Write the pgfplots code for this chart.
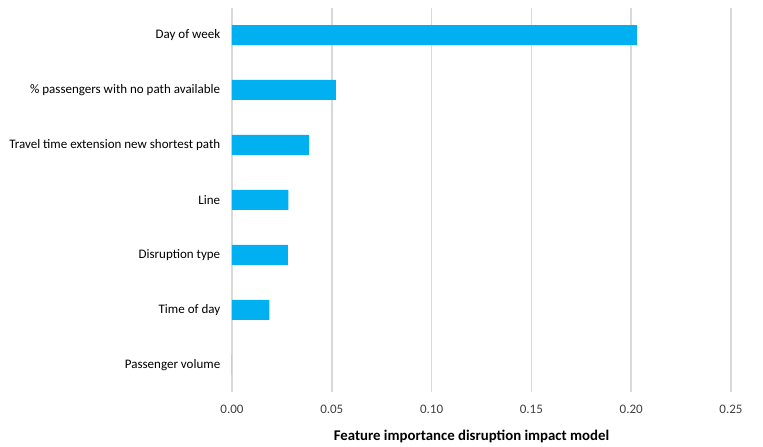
\documentclass[border=0pt]{standalone}
\usepackage{pgfplots}
\pgfplotsset{compat=1.18}
\usepackage{fontspec}
\setmainfont{Carlito}
\definecolor{barblue}{HTML}{00B0F0}
\definecolor{gridgray}{HTML}{D9D9D9}
\definecolor{txt}{HTML}{404040}
\begin{document}
\begin{tikzpicture}
\begin{axis}[
  scale only axis, width=499bp, height=385bp,
  xmin=0, xmax=0.25, ymin=-0.5, ymax=6.5,
  y dir=reverse,
  xbar, bar width=20bp,
  axis line style={draw=none},
  tick style={draw=none},
  xmajorgrids,
  major grid style={gridgray, line width=1.5bp},
  xtick={0,0.05,0.1,0.15,0.2,0.25},
  xticklabel style={/pgf/number format/fixed, /pgf/number format/fixed zerofill,
    /pgf/number format/precision=2, /pgf/number format/assume math mode=true,
    font=\fontsize{13bp}{15bp}\selectfont, text=txt, yshift=-9bp},
  ytick={0,1,2,3,4,5,6},
  yticklabels={Day of week, \% passengers with no path available, Travel time extension new shortest path, Line, Disruption type, Time of day, Passenger volume},
  yticklabel style={font=\fontsize{13bp}{15bp}\selectfont, text=black, xshift=-4bp},
  xlabel={\textbf{Feature importance disruption impact model}},
  xlabel style={font=\fontsize{14.8bp}{17bp}\selectfont, text=black, yshift=-10bp, xshift=-10bp},
]
\addplot[fill=barblue, draw=none] coordinates {
  (0.2028,0) (0.0520,1) (0.0386,2) (0.0283,3) (0.0280,4) (0.0187,5) (0,6)
};
\end{axis}
\path ([xshift=-232bp,yshift=7.5bp]current axis.north west) ([xshift=32bp,yshift=-54.5bp]current axis.south east);
\end{tikzpicture}
\end{document}
